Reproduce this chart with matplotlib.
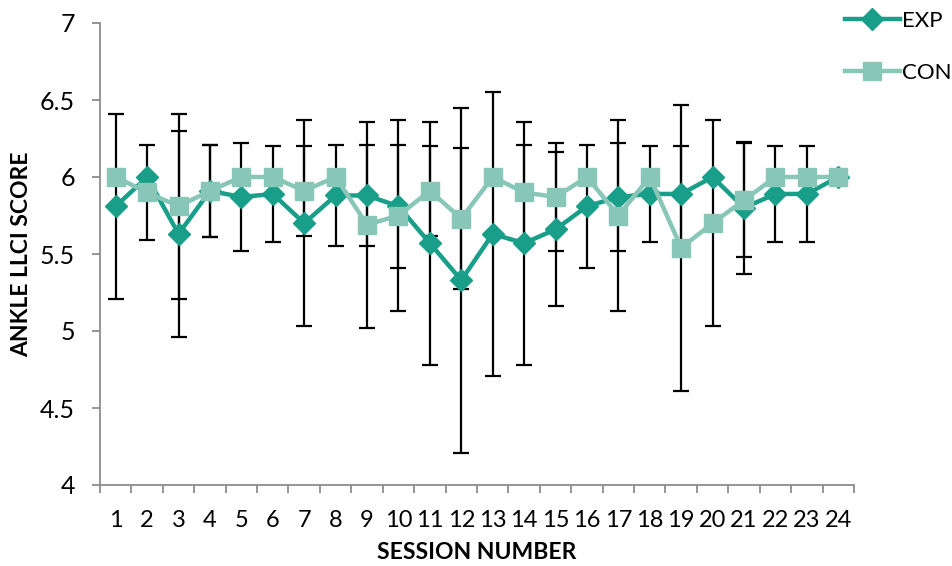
import matplotlib.pyplot as plt
from matplotlib.ticker import FixedLocator, FuncFormatter

# data
sessions = list(range(1, 25))
exp_mean = [5.81, 6.00, 5.63, 5.91, 5.87, 5.89, 5.70, 5.88, 5.88, 5.81, 5.57, 5.33,
            5.63, 5.57, 5.66, 5.81, 5.87, 5.89, 5.89, 6.00, 5.80, 5.89, 5.89, 6.00]
exp_err = [0.60, 0.00, 0.67, 0.30, 0.35, 0.31, 0.67, 0.33, 0.33, 0.40, 0.79, 1.12,
           0.92, 0.79, 0.50, 0.40, 0.35, 0.31, 0.31, 0.00, 0.43, 0.31, 0.31, 0.00]
con_mean = [6.00, 5.90, 5.81, 5.91, 6.00, 6.00, 5.91, 6.00, 5.69, 5.75, 5.91, 5.73,
            6.00, 5.90, 5.87, 6.00, 5.75, 6.00, 5.54, 5.70, 5.85, 6.00, 6.00, 6.00]
con_err = [0.00, 0.31, 0.60, 0.30, 0.00, 0.00, 0.29, 0.00, 0.67, 0.62, 0.29, 0.46,
           0.00, 0.31, 0.35, 0.00, 0.62, 0.00, 0.93, 0.67, 0.37, 0.00, 0.00, 0.00]

EXP_COLOR = "#189e89"
CON_COLOR = "#88c6b8"
AXIS_GRAY = "#8c8c8c"

plt.rcParams["font.family"] = ["Lato", "DejaVu Sans"]

fig = plt.figure(figsize=(9.52, 5.66), dpi=100)
ax = fig.add_axes([100 / 952, 1 - 485 / 566, 754 / 952, 462 / 566])


def draw_errors(means, errs):
    xs = [s for s, e in zip(sessions, errs) if e > 0]
    ys = [m for m, e in zip(means, errs) if e > 0]
    es = [e for e in errs if e > 0]
    ax.errorbar(xs, ys, yerr=es, fmt="none", ecolor="black", elinewidth=1.6,
                capsize=6, capthick=1.6, zorder=1)


draw_errors(exp_mean, exp_err)
draw_errors(con_mean, con_err)

ax.plot(sessions, exp_mean, color=EXP_COLOR, lw=3.2, marker="D", ms=11,
        label="EXP", zorder=3)
ax.plot(sessions, con_mean, color=CON_COLOR, lw=3.2, marker="s", ms=13,
        label="CON", zorder=4)

ax.set_xlim(0.5, 24.5)
ax.set_ylim(4, 7)
ax.set_xticks(sessions)
ax.xaxis.set_minor_locator(FixedLocator([s - 0.5 for s in sessions] + [24.5]))
ax.tick_params(axis="x", which="major", length=0, labelsize=17, pad=18)
ax.tick_params(axis="x", which="minor", length=6, color=AXIS_GRAY, width=1.3)
ax.set_yticks([4, 4.5, 5, 5.5, 6, 6.5, 7])
ax.yaxis.set_major_formatter(FuncFormatter(lambda v, _: f"{v:g}"))
ax.tick_params(axis="y", length=6, color=AXIS_GRAY, width=1.3, labelsize=18, pad=12)

for side in ("top", "right"):
    ax.spines[side].set_visible(False)
for side in ("left", "bottom"):
    ax.spines[side].set_color(AXIS_GRAY)
    ax.spines[side].set_linewidth(1.3)

ax.set_xlabel("SESSION NUMBER", fontsize=16.5, fontweight="bold", labelpad=8)
ax.set_ylabel("ANKLE LLCI SCORE", fontsize=16.5, fontweight="bold")
ax.yaxis.set_label_coords(-0.09, 0.5)

ax.legend(loc="upper left", bbox_to_anchor=(838 / 952, 1 - 4 / 566),
          bbox_transform=fig.transFigure, frameon=False, fontsize=16,
          handlelength=2.5, handletextpad=0.1, labelspacing=1.45,
          borderaxespad=0.1, borderpad=0.2)

fig.savefig("out.png", dpi=100)
